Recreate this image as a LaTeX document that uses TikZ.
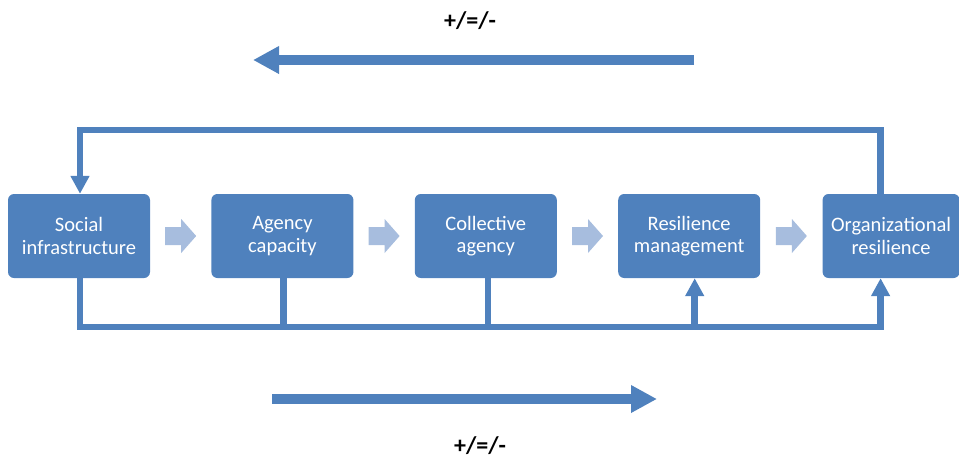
\documentclass[tikz,border=0pt]{standalone}
\usepackage{fontspec}
\setmainfont{Carlito}
\usetikzlibrary{positioning,calc,arrows.meta}
\definecolor{boxblue}{HTML}{4F81BD}
\definecolor{paleblue}{HTML}{A7BDDE}
\tikzset{
  stage/.style={fill=boxblue, rounded corners=6pt, minimum width=142pt, minimum height=84pt,
    align=center, text=white, font=\fontsize{20.5}{22.5}\selectfont, inner sep=0pt},
  loopline/.style={draw=boxblue, line width=6.5pt},
  loophead/.style={-{Triangle[width=18pt,length=18pt]}},
  bigarrow/.style={draw=boxblue, line width=9.5pt, -{Triangle[width=26pt,length=26pt]}},
  sign/.style={font=\fontsize{24}{28}\selectfont\bfseries},
}
\begin{document}
\begin{tikzpicture}[x=1pt,y=-1pt]
\useasboundingbox (0,0) rectangle (959,458);

% stages
\node[stage] (social) at (79,236) {Social\\infrastructure};
\node[stage, right=61pt of social] (agency) {Agency\\capacity};
\node[stage, right=61pt of agency] (collective) {Collective\\agency};
\node[stage, right=61pt of collective] (resilience) {Resilience\\management};
\node[stage, right=62pt of resilience, minimum width=137pt] (organizational) {Organizational\\resilience};

% block arrows between stages
\foreach \a/\b in {social/agency,agency/collective,collective/resilience,resilience/organizational}
  \fill[paleblue] ($(\a.east)!0.5!(\b.west)$) ++(-15.5,-9) -- ++(16,0) -- ++(0,-8)
    -- ++(15,17) -- ++(-15,17) -- ++(0,-8) -- ++(-16,0) -- cycle;

% feedback loops
\coordinate (top) at (480,130);
\coordinate (bottom) at (480,327);
\draw[loopline, loophead] ([xshift=-10.5pt]organizational.north) |- (top) -| ([xshift=1pt]social.north);
\draw[loopline, loophead] ([xshift=1pt]social.south) |- (bottom) -| ([xshift=-10.5pt]organizational.south);
\draw[loopline] ([xshift=1pt]agency.south) -- ([xshift=1pt]agency.south |- bottom);
\draw[loopline] ([xshift=2pt]collective.south) -- ([xshift=2pt]collective.south |- bottom);
\draw[loopline, loophead] ([xshift=5.5pt]resilience.south |- bottom) -- ([xshift=5.5pt]resilience.south);

% direction arrows
\coordinate (backstart) at (694,60);
\coordinate (backend) at (253,60);
\draw[bigarrow] (backstart) -- (backend);
\node[sign] (backsign) at (470,21) {+/=/-};
\coordinate (forthstart) at (272,399);
\coordinate (forthend) at (657,399);
\draw[bigarrow] (forthstart) -- (forthend);
\node[sign] (forthsign) at (480,446) {+/=/-};
\end{tikzpicture}
\end{document}
